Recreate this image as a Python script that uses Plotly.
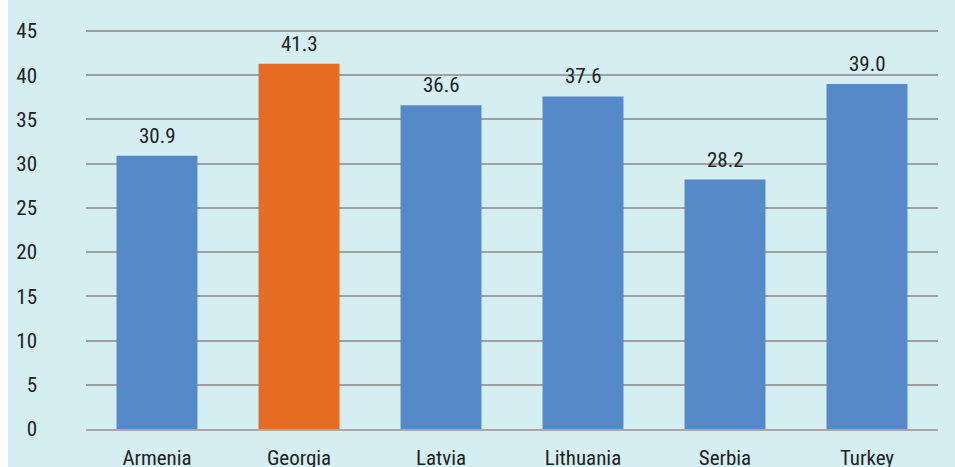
import plotly.graph_objects as go

countries = ["Armenia", "Georgia", "Latvia", "Lithuania", "Serbia", "Turkey"]
values = [30.9, 41.3, 36.6, 37.6, 28.2, 39.0]
labels = ["30.9", "41.3", "36.6", "37.6", "28.2", "39.0"]
colors = ["#5689c7", "#e66c24", "#5689c7", "#5689c7", "#5689c7", "#5689c7"]
yticks = [0, 5, 10, 15, 20, 25, 30, 35, 40, 45]

FONT = "Roboto Condensed, Liberation Sans Narrow, Roboto, sans-serif"
FS = 21

fig = go.Figure()
fig.add_trace(go.Bar(x=countries, y=values, marker=dict(color=colors, line=dict(width=0)),
                     hoverinfo="skip"))

for c, v, t in zip(countries, values, labels):
    fig.add_annotation(x=c, y=v, text=t, showarrow=False, yanchor="bottom", yshift=6,
                       font=dict(family=FONT, size=FS, color="#222222"))

W, H = 955, 467
L, R, T, B = 86, 17, 28, 38
pw, ph = W - L - R, H - T - B
ytop = 45 + 3 / (398 / 45)
fig.add_shape(type="rect", xref="paper", yref="paper",
              x0=(8 - L) / pw, x1=(W - L) / pw, y0=-B / ph, y1=1 + T / ph,
              fillcolor="#d5eef2", line=dict(width=0), layer="below")

fig.update_layout(
    width=W, height=H, margin=dict(l=L, r=R, t=T, b=B, autoexpand=False),
    paper_bgcolor="white", plot_bgcolor="rgba(0,0,0,0)",
    bargap=0.43, showlegend=False,
    font=dict(family=FONT, size=FS, color="#222222"),
    xaxis=dict(showgrid=False, showline=True, linecolor="#a8a8a8", linewidth=2,
               ticks="", ticklabelstandoff=9, automargin=False,
               tickfont=dict(family=FONT, size=FS, color="#222222")),
    yaxis=dict(range=[0, ytop], tickvals=yticks, showgrid=True, gridcolor="#a0a0a0",
               gridwidth=1.5, zeroline=False, showline=False, ticks="",
               ticklabelstandoff=48, automargin=False,
               tickfont=dict(family=FONT, size=FS, color="#222222")),
)

fig.write_html("out.html", config={"displayModeBar": False},
               post_script="document.body.style.margin='0';document.body.style.overflow='hidden';")
